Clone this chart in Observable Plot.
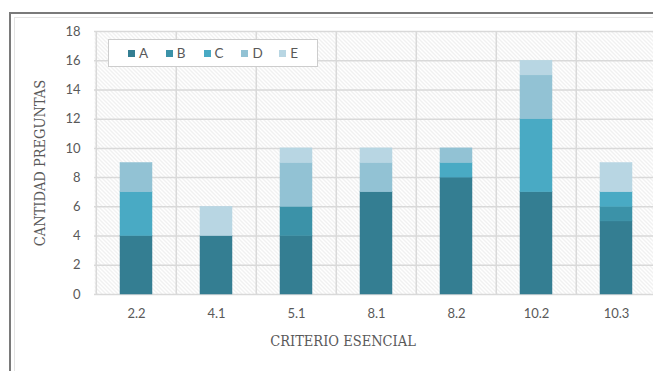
<!DOCTYPE html>
<html>
<head>
<meta charset="utf-8">
<script src="https://cdn.jsdelivr.net/npm/d3@7"></script>
<script src="https://cdn.jsdelivr.net/npm/@observablehq/plot@0.6"></script>
<style>
  html, body { margin: 0; padding: 0; background: #fff; }
  body { width: 653px; height: 371px; overflow: hidden; position: relative; }
  .frame { position: absolute; left: 9px; top: 12px; width: 700px; height: 420px;
           border: 2px solid #7a7a7a; box-sizing: border-box; }
  .frame-inner { position: absolute; left: 3px; top: 3px; right: -20px; bottom: -20px;
                 border: 1px solid #e4e4e4; }
  #chart { position: absolute; left: 0; top: 0; width: 660px; }
  #chart svg { max-width: none !important; }
  .legend { position: absolute; left: 108px; top: 39px; width: 210px; height: 28px;
            box-sizing: border-box; border: 1px solid #cdcdcd; background: #fff;
            display: flex; align-items: center; padding-left: 19px;
            font-family: Lato, "Noto Sans", sans-serif; font-size: 13.5px; color: #595959; }
  .legend .item { display: flex; align-items: center; width: 40px; }
  .legend .sw { width: 7px; height: 7px; margin-right: 4px; }
</style>
</head>
<body>
<div class="frame"><div class="frame-inner"></div></div>
<div id="chart"></div>
<div class="legend" id="legend"></div>
<script>
// Criteria on the x axis and the answer categories stacked in each bar
const categories = ["2.2", "4.1", "5.1", "8.1", "8.2", "10.2", "10.3"];
const series = ["A", "B", "C", "D", "E"];
const valuesA = [4, 4, 4, 7, 8, 7, 5];
const valuesB = [0, 0, 2, 0, 0, 0, 1];
const valuesC = [3, 0, 0, 0, 1, 5, 1];
const valuesD = [2, 0, 3, 2, 1, 3, 0];
const valuesE = [0, 2, 1, 1, 0, 1, 2];
const yTicks = [0, 2, 4, 6, 8, 10, 12, 14, 16, 18];
const colors = ["#347e92", "#3b92a8", "#49aac4", "#92c2d4", "#b8d6e3"];

const seriesValues = [valuesA, valuesB, valuesC, valuesD, valuesE];
const rows = [];
series.forEach((s, si) => {
  categories.forEach((c, ci) => {
    rows.push({criterio: c, serie: s, n: seriesValues[si][ci]});
  });
});

const step = 563 / categories.length;
const tickColor = "#595959";
const titleFont = "'DejaVu Serif Condensed', 'DejaVu Serif', serif";

const chart = Plot.plot({
  width: 660,
  height: 371,
  marginLeft: 94,
  marginRight: 3,
  marginTop: 31,
  marginBottom: 77,
  style: {fontFamily: "Lato, 'Noto Sans', sans-serif", fontSize: "13px", color: tickColor, background: "transparent", overflow: "visible", maxWidth: "none"},
  x: {domain: categories, paddingInner: 0.6, paddingOuter: 0.3, label: null},
  y: {domain: [0, 18], label: null},
  color: {domain: series, range: colors},
  marks: [
    Plot.frame({fill: "url(#hatch)", stroke: null}),
    Plot.gridY(yTicks, {stroke: "#d9d9d9", strokeOpacity: 1, strokeWidth: 1.5}),
    Plot.ruleX(categories, {x: d => d, dx: -step / 2, stroke: "#d9d9d9", strokeWidth: 1.5}),
    Plot.barY(rows, {x: "criterio", y: "n", fill: "serie", stroke: "serie", strokeWidth: 0.5, order: series}),
    Plot.axisY(yTicks, {tickSize: 0, tickPadding: 14, label: null, fill: tickColor}),
    Plot.axisX({tickSize: 0, tickPadding: 14, label: null, fill: tickColor}),
    Plot.text(["CANTIDAD PREGUNTAS"], {
      frameAnchor: "left", dx: -54, rotate: -90, text: d => d, textAnchor: "middle",
      fontFamily: titleFont, fontSize: 14.5, fill: tickColor
    }),
    Plot.text(["CRITERIO ESENCIAL"], {
      frameAnchor: "bottom", dy: 51, dx: -33, text: d => d,
      fontFamily: titleFont, fontSize: 14.5, fill: tickColor
    })
  ]
});

// Diagonal hatch used as the plot background
const defs = d3.select(chart).insert("defs", ":first-child");
const pat = defs.append("pattern")
  .attr("id", "hatch")
  .attr("patternUnits", "userSpaceOnUse")
  .attr("width", 4).attr("height", 4);
pat.append("rect").attr("width", 4).attr("height", 4).attr("fill", "#fff");
pat.append("path")
  .attr("d", "M-1,-1 L5,5 M-1,3 L1,5 M3,-1 L5,1")
  .attr("stroke", "#dadada").attr("stroke-width", 0.8);

document.getElementById("chart").appendChild(chart);

// Legend row inside the plot area
const legend = d3.select("#legend");
series.forEach((s, i) => {
  const item = legend.append("div").attr("class", "item");
  item.append("div").attr("class", "sw").style("background", colors[i]);
  item.append("span").text(s);
});
</script>
</body>
</html>
